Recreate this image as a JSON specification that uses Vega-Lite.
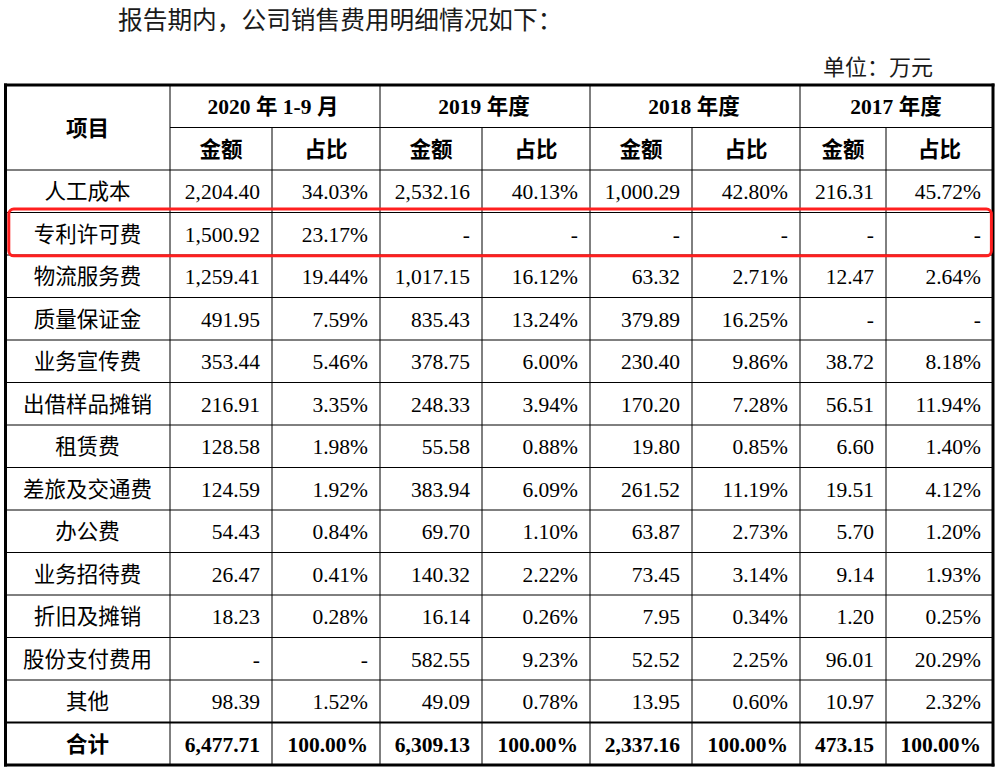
{
  "$schema": "https://vega.github.io/schema/vega-lite/v6.json",
  "width": 1000,
  "height": 776,
  "autosize": {"type": "none"},
  "padding": 0,
  "background": "white",
  "config": {
    "view": {"stroke": null},
    "axis": {"disable": true},
    "text": {"font": "Liberation Serif, Noto Sans CJK SC", "fontSize": 21.5, "color": "#000000", "baseline": "middle", "align": "center", "dy": 2},
    "rule": {"color": "#000000", "strokeWidth": 1}
  },
  "datasets": {
    "table": [
      {"item": "人工成本", "amt2020": "2,204.40", "pct2020": "34.03%", "amt2019": "2,532.16", "pct2019": "40.13%", "amt2018": "1,000.29", "pct2018": "42.80%", "amt2017": "216.31", "pct2017": "45.72%"},
      {"item": "专利许可费", "amt2020": "1,500.92", "pct2020": "23.17%", "amt2019": "-", "pct2019": "-", "amt2018": "-", "pct2018": "-", "amt2017": "-", "pct2017": "-"},
      {"item": "物流服务费", "amt2020": "1,259.41", "pct2020": "19.44%", "amt2019": "1,017.15", "pct2019": "16.12%", "amt2018": "63.32", "pct2018": "2.71%", "amt2017": "12.47", "pct2017": "2.64%"},
      {"item": "质量保证金", "amt2020": "491.95", "pct2020": "7.59%", "amt2019": "835.43", "pct2019": "13.24%", "amt2018": "379.89", "pct2018": "16.25%", "amt2017": "-", "pct2017": "-"},
      {"item": "业务宣传费", "amt2020": "353.44", "pct2020": "5.46%", "amt2019": "378.75", "pct2019": "6.00%", "amt2018": "230.40", "pct2018": "9.86%", "amt2017": "38.72", "pct2017": "8.18%"},
      {"item": "出借样品摊销", "amt2020": "216.91", "pct2020": "3.35%", "amt2019": "248.33", "pct2019": "3.94%", "amt2018": "170.20", "pct2018": "7.28%", "amt2017": "56.51", "pct2017": "11.94%"},
      {"item": "租赁费", "amt2020": "128.58", "pct2020": "1.98%", "amt2019": "55.58", "pct2019": "0.88%", "amt2018": "19.80", "pct2018": "0.85%", "amt2017": "6.60", "pct2017": "1.40%"},
      {"item": "差旅及交通费", "amt2020": "124.59", "pct2020": "1.92%", "amt2019": "383.94", "pct2019": "6.09%", "amt2018": "261.52", "pct2018": "11.19%", "amt2017": "19.51", "pct2017": "4.12%"},
      {"item": "办公费", "amt2020": "54.43", "pct2020": "0.84%", "amt2019": "69.70", "pct2019": "1.10%", "amt2018": "63.87", "pct2018": "2.73%", "amt2017": "5.70", "pct2017": "1.20%"},
      {"item": "业务招待费", "amt2020": "26.47", "pct2020": "0.41%", "amt2019": "140.32", "pct2019": "2.22%", "amt2018": "73.45", "pct2018": "3.14%", "amt2017": "9.14", "pct2017": "1.93%"},
      {"item": "折旧及摊销", "amt2020": "18.23", "pct2020": "0.28%", "amt2019": "16.14", "pct2019": "0.26%", "amt2018": "7.95", "pct2018": "0.34%", "amt2017": "1.20", "pct2017": "0.25%"},
      {"item": "股份支付费用", "amt2020": "-", "pct2020": "-", "amt2019": "582.55", "pct2019": "9.23%", "amt2018": "52.52", "pct2018": "2.25%", "amt2017": "96.01", "pct2017": "20.29%"},
      {"item": "其他", "amt2020": "98.39", "pct2020": "1.52%", "amt2019": "49.09", "pct2019": "0.78%", "amt2018": "13.95", "pct2018": "0.60%", "amt2017": "10.97", "pct2017": "2.32%"},
      {"item": "合计", "amt2020": "6,477.71", "pct2020": "100.00%", "amt2019": "6,309.13", "pct2019": "100.00%", "amt2018": "2,337.16", "pct2018": "100.00%", "amt2017": "473.15", "pct2017": "100.00%"}
    ],
    "columns": [
      {"key": "amt2020", "col": 2, "period": "2020 年 1-9 月", "metric": "金额"},
      {"key": "pct2020", "col": 3, "period": "2020 年 1-9 月", "metric": "占比"},
      {"key": "amt2019", "col": 4, "period": "2019 年度", "metric": "金额"},
      {"key": "pct2019", "col": 5, "period": "2019 年度", "metric": "占比"},
      {"key": "amt2018", "col": 6, "period": "2018 年度", "metric": "金额"},
      {"key": "pct2018", "col": 7, "period": "2018 年度", "metric": "占比"},
      {"key": "amt2017", "col": 8, "period": "2017 年度", "metric": "金额"},
      {"key": "pct2017", "col": 9, "period": "2017 年度", "metric": "占比"}
    ],
    "notes": [
      {"note": "title", "label": "报告期内，公司销售费用明细情况如下："},
      {"note": "unit", "label": "单位：万元"}
    ]
  },
  "data": {"name": "table"},
  "resolve": {"scale": {"x": "independent"}},
  "layer": [
    {
      "data": {"name": "notes"},
      "transform": [{"filter": "datum.note == 'title'"}],
      "mark": {"type": "text", "align": "left", "fontSize": 24.7, "color": "#1a1a1a"},
      "encoding": {
        "text": {"field": "label"},
        "x": {"field": "note", "type": "nominal", "scale": {"type": "point", "domain": ["title", "unit"], "range": [118, 823], "padding": 0}},
        "y": {"datum": "标题", "type": "nominal", "bandPosition": 0.48, "scale": {"domain": ["标题","单位","年度","指标","人工成本","专利许可费","物流服务费","质量保证金","业务宣传费","出借样品摊销","租赁费","差旅及交通费","办公费","业务招待费","折旧及摊销","股份支付费用","其他","合计"], "range": [0, 765], "paddingInner": 0, "paddingOuter": 0}}
      }
    },
    {
      "data": {"name": "notes"},
      "transform": [{"filter": "datum.note == 'unit'"}],
      "mark": {"type": "text", "align": "left", "fontSize": 22, "color": "#1a1a1a"},
      "encoding": {
        "text": {"field": "label"},
        "x": {"field": "note", "type": "nominal", "scale": {"type": "point", "domain": ["title", "unit"], "range": [118, 823], "padding": 0}},
        "y": {"datum": "单位", "type": "nominal", "bandPosition": 0.56, "scale": {"domain": ["标题","单位","年度","指标","人工成本","专利许可费","物流服务费","质量保证金","业务宣传费","出借样品摊销","租赁费","差旅及交通费","办公费","业务招待费","折旧及摊销","股份支付费用","其他","合计"], "range": [0, 765], "paddingInner": 0, "paddingOuter": 0}}
      }
    },
    {
      "transform": [{"filter": "datum.item != '合计'"}],
      "mark": {"type": "rule"},
      "encoding": {
        "y": {"field": "item", "type": "nominal", "bandPosition": 0, "scale": {"domain": ["标题","单位","年度","指标","人工成本","专利许可费","物流服务费","质量保证金","业务宣传费","出借样品摊销","租赁费","差旅及交通费","办公费","业务招待费","折旧及摊销","股份支付费用","其他","合计"], "range": [0, 765], "paddingInner": 0, "paddingOuter": 0}},
        "x": {"datum": 0, "type": "quantitative", "scale": {"domain": [0,1,2,3,4,5,6,7,8,9], "range": [5.5,170,272,380,482,590,692,800,886,993], "nice": false, "zero": false}},
        "x2": {"datum": 9}
      }
    },
    {
      "transform": [{"filter": "datum.item == '合计'"}],
      "mark": {"type": "rule", "strokeWidth": 2.2},
      "encoding": {
        "y": {"field": "item", "type": "nominal", "bandPosition": 0, "scale": {"domain": ["标题","单位","年度","指标","人工成本","专利许可费","物流服务费","质量保证金","业务宣传费","出借样品摊销","租赁费","差旅及交通费","办公费","业务招待费","折旧及摊销","股份支付费用","其他","合计"], "range": [0, 765], "paddingInner": 0, "paddingOuter": 0}},
        "x": {"datum": 0, "type": "quantitative", "scale": {"domain": [0,1,2,3,4,5,6,7,8,9], "range": [5.5,170,272,380,482,590,692,800,886,993], "nice": false, "zero": false}},
        "x2": {"datum": 9}
      }
    },
    {
      "data": {"values": [{}]},
      "mark": {"type": "rule"},
      "encoding": {
        "y": {"datum": "指标", "type": "nominal", "bandPosition": 0, "scale": {"domain": ["标题","单位","年度","指标","人工成本","专利许可费","物流服务费","质量保证金","业务宣传费","出借样品摊销","租赁费","差旅及交通费","办公费","业务招待费","折旧及摊销","股份支付费用","其他","合计"], "range": [0, 765], "paddingInner": 0, "paddingOuter": 0}},
        "x": {"datum": 1, "type": "quantitative", "scale": {"domain": [0,1,2,3,4,5,6,7,8,9], "range": [5.5,170,272,380,482,590,692,800,886,993], "nice": false, "zero": false}},
        "x2": {"datum": 9}
      }
    },
    {
      "data": {"name": "columns"},
      "transform": [{"filter": "datum.metric == '金额'"}],
      "mark": {"type": "rule"},
      "encoding": {
        "x": {"field": "col", "type": "quantitative", "scale": {"domain": [0,1,2,3,4,5,6,7,8,9], "range": [5.5,170,272,380,482,590,692,800,886,993], "nice": false, "zero": false}},
        "y": {"datum": "指标", "type": "nominal", "bandPosition": 0, "scale": {"domain": ["标题","单位","年度","指标","人工成本","专利许可费","物流服务费","质量保证金","业务宣传费","出借样品摊销","租赁费","差旅及交通费","办公费","业务招待费","折旧及摊销","股份支付费用","其他","合计"], "range": [0, 765], "paddingInner": 0, "paddingOuter": 0}},
        "y2": {"datum": "合计", "bandPosition": 1}
      }
    },
    {
      "data": {"name": "columns"},
      "transform": [{"filter": "datum.metric == '占比' && datum.col < 9"}],
      "mark": {"type": "rule"},
      "encoding": {
        "x": {"field": "col", "type": "quantitative", "scale": {"domain": [0,1,2,3,4,5,6,7,8,9], "range": [5.5,170,272,380,482,590,692,800,886,993], "nice": false, "zero": false}},
        "y": {"datum": "年度", "type": "nominal", "bandPosition": 0, "scale": {"domain": ["标题","单位","年度","指标","人工成本","专利许可费","物流服务费","质量保证金","业务宣传费","出借样品摊销","租赁费","差旅及交通费","办公费","业务招待费","折旧及摊销","股份支付费用","其他","合计"], "range": [0, 765], "paddingInner": 0, "paddingOuter": 0}},
        "y2": {"datum": "合计", "bandPosition": 1}
      }
    },
    {
      "data": {"values": [{}]},
      "mark": {"type": "rule"},
      "encoding": {
        "x": {"datum": 1, "type": "quantitative", "scale": {"domain": [0,1,2,3,4,5,6,7,8,9], "range": [5.5,170,272,380,482,590,692,800,886,993], "nice": false, "zero": false}},
        "y": {"datum": "年度", "type": "nominal", "bandPosition": 0, "scale": {"domain": ["标题","单位","年度","指标","人工成本","专利许可费","物流服务费","质量保证金","业务宣传费","出借样品摊销","租赁费","差旅及交通费","办公费","业务招待费","折旧及摊销","股份支付费用","其他","合计"], "range": [0, 765], "paddingInner": 0, "paddingOuter": 0}},
        "y2": {"datum": "合计", "bandPosition": 1}
      }
    },
    {
      "data": {"values": [{}]},
      "mark": {"type": "rule", "strokeWidth": 3, "strokeCap": "square"},
      "encoding": {
        "y": {"datum": "年度", "type": "nominal", "bandPosition": 0, "scale": {"domain": ["标题","单位","年度","指标","人工成本","专利许可费","物流服务费","质量保证金","业务宣传费","出借样品摊销","租赁费","差旅及交通费","办公费","业务招待费","折旧及摊销","股份支付费用","其他","合计"], "range": [0, 765], "paddingInner": 0, "paddingOuter": 0}},
        "x": {"datum": 0, "type": "quantitative", "scale": {"domain": [0,1,2,3,4,5,6,7,8,9], "range": [5.5,170,272,380,482,590,692,800,886,993], "nice": false, "zero": false}},
        "x2": {"datum": 9}
      }
    },
    {
      "data": {"values": [{}]},
      "mark": {"type": "rule", "strokeWidth": 3, "strokeCap": "square"},
      "encoding": {
        "y": {"datum": "合计", "type": "nominal", "bandPosition": 1, "scale": {"domain": ["标题","单位","年度","指标","人工成本","专利许可费","物流服务费","质量保证金","业务宣传费","出借样品摊销","租赁费","差旅及交通费","办公费","业务招待费","折旧及摊销","股份支付费用","其他","合计"], "range": [0, 765], "paddingInner": 0, "paddingOuter": 0}},
        "x": {"datum": 0, "type": "quantitative", "scale": {"domain": [0,1,2,3,4,5,6,7,8,9], "range": [5.5,170,272,380,482,590,692,800,886,993], "nice": false, "zero": false}},
        "x2": {"datum": 9}
      }
    },
    {
      "data": {"values": [{}]},
      "mark": {"type": "rule", "strokeWidth": 3, "strokeCap": "square"},
      "encoding": {
        "x": {"datum": 0, "type": "quantitative", "scale": {"domain": [0,1,2,3,4,5,6,7,8,9], "range": [5.5,170,272,380,482,590,692,800,886,993], "nice": false, "zero": false}},
        "y": {"datum": "年度", "type": "nominal", "bandPosition": 0, "scale": {"domain": ["标题","单位","年度","指标","人工成本","专利许可费","物流服务费","质量保证金","业务宣传费","出借样品摊销","租赁费","差旅及交通费","办公费","业务招待费","折旧及摊销","股份支付费用","其他","合计"], "range": [0, 765], "paddingInner": 0, "paddingOuter": 0}},
        "y2": {"datum": "合计", "bandPosition": 1}
      }
    },
    {
      "data": {"values": [{}]},
      "mark": {"type": "rule", "strokeWidth": 3, "strokeCap": "square"},
      "encoding": {
        "x": {"datum": 9, "type": "quantitative", "scale": {"domain": [0,1,2,3,4,5,6,7,8,9], "range": [5.5,170,272,380,482,590,692,800,886,993], "nice": false, "zero": false}},
        "y": {"datum": "年度", "type": "nominal", "bandPosition": 0, "scale": {"domain": ["标题","单位","年度","指标","人工成本","专利许可费","物流服务费","质量保证金","业务宣传费","出借样品摊销","租赁费","差旅及交通费","办公费","业务招待费","折旧及摊销","股份支付费用","其他","合计"], "range": [0, 765], "paddingInner": 0, "paddingOuter": 0}},
        "y2": {"datum": "合计", "bandPosition": 1}
      }
    },
    {
      "data": {"values": [{"label": "项目"}]},
      "mark": {"type": "text", "fontWeight": "bold"},
      "encoding": {
        "text": {"field": "label"},
        "x": {"datum": 1, "type": "quantitative", "scale": {"domain": [1,2,3,4,5,6,7,8,9], "range": [87.5,221,326,431,536,641,746,843,939.5], "nice": false, "zero": false}},
        "y": {"datum": "指标", "type": "nominal", "bandPosition": 0, "scale": {"domain": ["标题","单位","年度","指标","人工成本","专利许可费","物流服务费","质量保证金","业务宣传费","出借样品摊销","租赁费","差旅及交通费","办公费","业务招待费","折旧及摊销","股份支付费用","其他","合计"], "range": [0, 765], "paddingInner": 0, "paddingOuter": 0}}
      }
    },
    {
      "data": {"name": "columns"},
      "transform": [{"filter": "datum.metric == '金额'"}],
      "mark": {"type": "text", "fontWeight": "bold"},
      "encoding": {
        "text": {"field": "period"},
        "x": {"field": "col", "type": "quantitative", "scale": {"domain": [2,4,6,8], "range": [273,484,694,896], "nice": false, "zero": false}},
        "y": {"datum": "年度", "type": "nominal", "scale": {"domain": ["标题","单位","年度","指标","人工成本","专利许可费","物流服务费","质量保证金","业务宣传费","出借样品摊销","租赁费","差旅及交通费","办公费","业务招待费","折旧及摊销","股份支付费用","其他","合计"], "range": [0, 765], "paddingInner": 0, "paddingOuter": 0}}
      }
    },
    {
      "data": {"name": "columns"},
      "mark": {"type": "text", "fontWeight": "bold"},
      "encoding": {
        "text": {"field": "metric"},
        "x": {"field": "col", "type": "quantitative", "scale": {"domain": [1,2,3,4,5,6,7,8,9], "range": [87.5,221,326,431,536,641,746,843,939.5], "nice": false, "zero": false}},
        "y": {"datum": "指标", "type": "nominal", "scale": {"domain": ["标题","单位","年度","指标","人工成本","专利许可费","物流服务费","质量保证金","业务宣传费","出借样品摊销","租赁费","差旅及交通费","办公费","业务招待费","折旧及摊销","股份支付费用","其他","合计"], "range": [0, 765], "paddingInner": 0, "paddingOuter": 0}}
      }
    },
    {
      "transform": [{"filter": "datum.item != '合计'"}],
      "mark": {"type": "text"},
      "encoding": {
        "text": {"field": "item"},
        "x": {"datum": 1, "type": "quantitative", "scale": {"domain": [1,2,3,4,5,6,7,8,9], "range": [87.5,221,326,431,536,641,746,843,939.5], "nice": false, "zero": false}},
        "y": {"field": "item", "type": "nominal", "scale": {"domain": ["标题","单位","年度","指标","人工成本","专利许可费","物流服务费","质量保证金","业务宣传费","出借样品摊销","租赁费","差旅及交通费","办公费","业务招待费","折旧及摊销","股份支付费用","其他","合计"], "range": [0, 765], "paddingInner": 0, "paddingOuter": 0}}
      }
    },
    {
      "transform": [{"filter": "datum.item == '合计'"}],
      "mark": {"type": "text", "fontWeight": "bold"},
      "encoding": {
        "text": {"field": "item"},
        "x": {"datum": 1, "type": "quantitative", "scale": {"domain": [1,2,3,4,5,6,7,8,9], "range": [87.5,221,326,431,536,641,746,843,939.5], "nice": false, "zero": false}},
        "y": {"field": "item", "type": "nominal", "scale": {"domain": ["标题","单位","年度","指标","人工成本","专利许可费","物流服务费","质量保证金","业务宣传费","出借样品摊销","租赁费","差旅及交通费","办公费","业务招待费","折旧及摊销","股份支付费用","其他","合计"], "range": [0, 765], "paddingInner": 0, "paddingOuter": 0}}
      }
    },
    {
      "transform": [
        {"fold": ["amt2020", "pct2020", "amt2019", "pct2019", "amt2018", "pct2018", "amt2017", "pct2017"], "as": ["key", "value"]},
        {"lookup": "key", "from": {"data": {"name": "columns"}, "key": "key", "fields": ["col"]}},
        {"filter": "datum.item != '合计'"}
      ],
      "mark": {"type": "text", "align": "right", "dx": -12},
      "encoding": {
        "text": {"field": "value"},
        "x": {"field": "col", "type": "quantitative", "scale": {"domain": [0,1,2,3,4,5,6,7,8,9], "range": [5.5,170,272,380,482,590,692,800,886,993], "nice": false, "zero": false}},
        "y": {"field": "item", "type": "nominal", "scale": {"domain": ["标题","单位","年度","指标","人工成本","专利许可费","物流服务费","质量保证金","业务宣传费","出借样品摊销","租赁费","差旅及交通费","办公费","业务招待费","折旧及摊销","股份支付费用","其他","合计"], "range": [0, 765], "paddingInner": 0, "paddingOuter": 0}}
      }
    },
    {
      "transform": [
        {"fold": ["amt2020", "pct2020", "amt2019", "pct2019", "amt2018", "pct2018", "amt2017", "pct2017"], "as": ["key", "value"]},
        {"lookup": "key", "from": {"data": {"name": "columns"}, "key": "key", "fields": ["col"]}},
        {"filter": "datum.item == '合计'"}
      ],
      "mark": {"type": "text", "align": "right", "dx": -12, "fontWeight": "bold"},
      "encoding": {
        "text": {"field": "value"},
        "x": {"field": "col", "type": "quantitative", "scale": {"domain": [0,1,2,3,4,5,6,7,8,9], "range": [5.5,170,272,380,482,590,692,800,886,993], "nice": false, "zero": false}},
        "y": {"field": "item", "type": "nominal", "scale": {"domain": ["标题","单位","年度","指标","人工成本","专利许可费","物流服务费","质量保证金","业务宣传费","出借样品摊销","租赁费","差旅及交通费","办公费","业务招待费","折旧及摊销","股份支付费用","其他","合计"], "range": [0, 765], "paddingInner": 0, "paddingOuter": 0}}
      }
    },
    {
      "data": {"values": [{}]},
      "mark": {"type": "rect", "filled": false, "stroke": "#ff1f1f", "strokeWidth": 3, "cornerRadius": 5},
      "encoding": {
        "x": {"datum": 0.02, "type": "quantitative", "scale": {"domain": [0,1,2,3,4,5,6,7,8,9], "range": [5.5,170,272,380,482,590,692,800,886,993], "nice": false, "zero": false}},
        "x2": {"datum": 8.985},
        "y": {"datum": "专利许可费", "type": "nominal", "bandPosition": -0.08, "scale": {"domain": ["标题","单位","年度","指标","人工成本","专利许可费","物流服务费","质量保证金","业务宣传费","出借样品摊销","租赁费","差旅及交通费","办公费","业务招待费","折旧及摊销","股份支付费用","其他","合计"], "range": [0, 765], "paddingInner": 0, "paddingOuter": 0}},
        "y2": {"datum": "专利许可费", "bandPosition": 1.02}
      }
    }
  ]
}
